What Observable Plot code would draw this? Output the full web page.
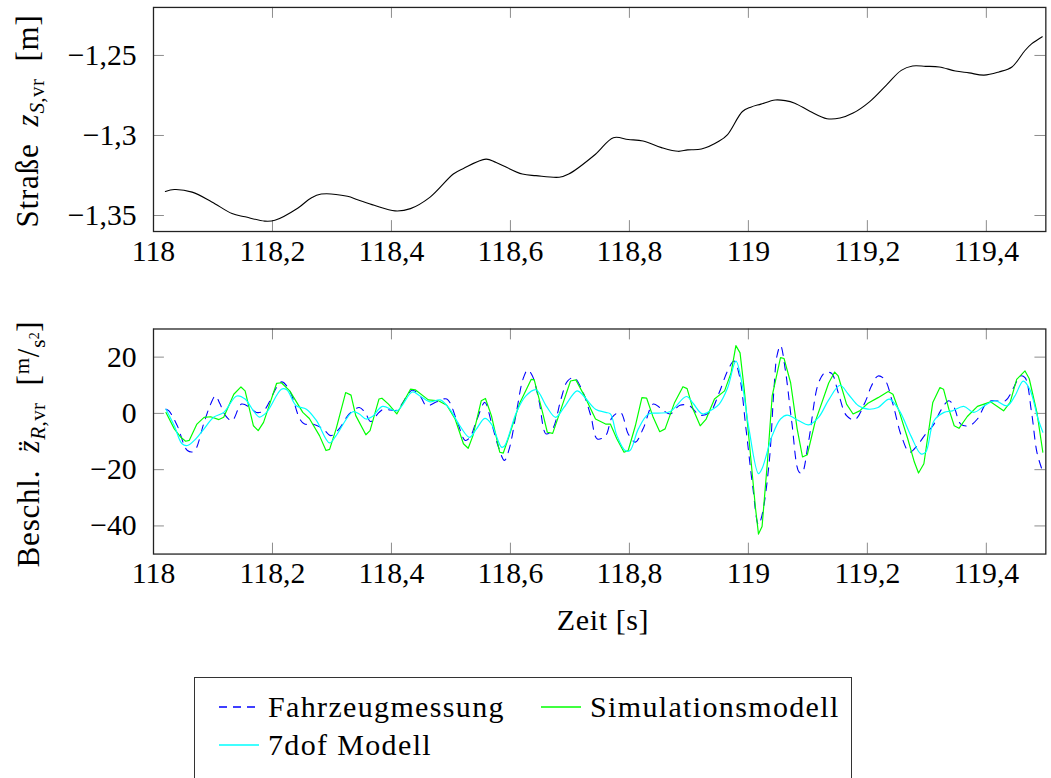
<!DOCTYPE html>
<html><head><meta charset="utf-8">
<script src="https://cdn.jsdelivr.net/npm/d3@7"></script>
<script src="https://cdn.jsdelivr.net/npm/@observablehq/plot@0.6"></script>
<style>
html,body{margin:0;padding:0;overflow:hidden;background:#fff;width:1051px;height:778px}
body{position:relative;font-family:"Liberation Serif","Times New Roman",Tinos,"DejaVu Serif",serif;color:#000}
.abs{position:absolute}
.ylab{position:absolute;white-space:nowrap;font-size:31px;letter-spacing:0.8px;transform:translate(-50%,-50%) rotate(-90deg);line-height:1}
.ylab sub{font-size:21px;vertical-align:-6px;letter-spacing:0.4px}
.ylab sup{font-size:21px;vertical-align:10px}
.lg{position:absolute;font-size:30px;letter-spacing:1.35px;white-space:nowrap;line-height:1;transform:translateY(-50%)}
</style></head>
<body>
<div id="p1" class="abs" style="left:0;top:0"></div>
<div id="p2" class="abs" style="left:0;top:270px"></div>
<div class="ylab" style="left:30px;top:121px">Straße&nbsp; <i>z</i><sub><i>S</i>,vr</sub>&nbsp; [m]</div>
<div class="ylab" style="left:30px;top:444px">Beschl.&nbsp; <i>z&#776;</i><sub><i>R</i>,vr</sub>&nbsp; [<sup>m</sup>/<sub>s<sup style="font-size:14px;vertical-align:6px">2</sup></sub>]</div>
<div class="abs" style="left:603px;top:620px;transform:translate(-50%,-50%);font-size:30px;letter-spacing:0.6px;white-space:nowrap;line-height:1">Zeit [s]</div>
<div id="legend" class="abs" style="left:194px;top:677px;width:658px;height:140px;border:1px solid #333;box-sizing:border-box"></div>
<script>
// ---- data ----
const xTicks = [118, 118.2, 118.4, 118.6, 118.8, 119, 119.2, 119.4];
const roadTicks = [-1.35, -1.3, -1.25];
const accTicks = [-40, -20, 0, 20];

const roadT = [118.02,118.035,118.065,118.098,118.132,118.154,118.187,118.204,118.243,118.265,118.282,118.326,118.343,118.371,118.406,118.432,118.465,118.504,118.521,118.559,118.576,118.62,118.643,118.682,118.698,118.743,118.773,118.798,118.823,118.854,118.882,118.898,118.921,118.951,118.965,118.99,119.004,119.021,119.045,119.062,119.078,119.104,119.132,119.154,119.176,119.204,119.232,119.257,119.276,119.298,119.321,119.348,119.371,119.396,119.421,119.443,119.465,119.476,119.494];
const roadZ = [-1.335,-1.3338,-1.3354,-1.3415,-1.3488,-1.3508,-1.3535,-1.353,-1.3453,-1.339,-1.3366,-1.338,-1.3401,-1.3436,-1.3471,-1.3457,-1.3385,-1.3241,-1.3206,-1.3148,-1.3169,-1.3241,-1.3251,-1.3261,-1.3241,-1.3117,-1.3014,-1.3025,-1.3035,-1.3076,-1.3099,-1.309,-1.3085,-1.3035,-1.2994,-1.285,-1.2823,-1.2804,-1.2778,-1.2782,-1.2798,-1.285,-1.2895,-1.2891,-1.286,-1.2788,-1.2685,-1.2593,-1.2566,-1.2568,-1.2572,-1.2597,-1.2609,-1.2623,-1.2603,-1.2572,-1.2469,-1.2428,-1.2383];

const measT = [118.021,118.026,118.04,118.057,118.068,118.085,118.096,118.104,118.112,118.121,118.132,118.148,118.162,118.173,118.185,118.215,118.229,118.246,118.254,118.268,118.285,118.298,118.312,118.329,118.346,118.357,118.365,118.379,118.387,118.398,118.409,118.435,118.448,118.459,118.476,118.493,118.51,118.524,118.532,118.543,118.557,118.568,118.579,118.59,118.598,118.61,118.621,118.629,118.637,118.648,118.66,118.671,118.685,118.696,118.707,118.721,118.735,118.746,118.76,118.771,118.785,118.798,118.81,118.823,118.84,118.851,118.868,118.885,118.901,118.918,118.935,118.951,118.965,118.976,118.985,118.996,119.007,119.017,119.023,119.035,119.043,119.048,119.054,119.062,119.073,119.085,119.09,119.101,119.118,119.129,119.14,119.151,119.165,119.179,119.196,119.207,119.218,119.229,119.243,119.257,119.271,119.284,119.296,119.312,119.323,119.337,119.346,119.357,119.371,119.385,119.401,119.412,119.432,119.446,119.457,119.465,119.476,119.485,119.493];
const measA = [1.5,0.9,-4.4,-13.2,-13.5,-3.2,3.3,6.2,3.3,-0.8,-2.6,3.3,2.1,0.35,0.9,11.2,8.0,-2.0,-3.8,-3.8,-5.5,-7.9,-5.5,-0.2,2.1,-0.2,-2.9,0.35,1.5,1.2,1.2,8.2,6.2,2.7,4.1,5.1,-2.6,-9.6,-8.5,-2.6,3.9,-3.2,-11.4,-16.7,-12.6,0.35,12.1,15.4,13.3,4.5,-7.3,-5.5,5.1,11.5,12.7,8.0,-0.8,-9.1,-7.9,-1.4,0.35,-7.3,-10.2,-5.5,3.3,2.1,-0.2,2.9,2.7,-0.6,0.35,7.4,15.1,18.6,13.3,-5.5,-25.5,-39.6,-36.1,-17.3,8.6,20.4,24.1,15.6,-3.2,-20.8,-21.2,-10.2,10.9,14.5,14.2,7.4,-0.8,-2.2,3.9,9.8,13.3,12.1,3.3,-7.9,-13.8,-11.4,-7.9,-3.8,0.9,4.5,2.1,-3.8,-4.4,-2.0,3.9,4.5,4.5,9.2,13.3,12.7,0.35,-13.8,-19.6];

const simT = [118.021,118.035,118.046,118.054,118.06,118.073,118.085,118.096,118.11,118.118,118.135,118.147,118.154,118.168,118.176,118.185,118.207,118.215,118.229,118.251,118.262,118.279,118.29,118.296,118.307,118.323,118.332,118.34,118.357,118.364,118.379,118.384,118.395,118.409,118.432,118.44,118.462,118.479,118.493,118.507,118.521,118.529,118.537,118.551,118.558,118.568,118.582,118.588,118.598,118.615,118.635,118.64,118.654,118.662,118.671,118.685,118.701,118.71,118.726,118.743,118.76,118.768,118.779,118.791,118.798,118.81,118.821,118.829,118.84,118.851,118.86,118.876,118.89,118.897,118.907,118.919,118.929,118.943,118.96,118.971,118.979,118.986,118.993,119.001,119.012,119.017,119.023,119.032,119.04,119.054,119.06,119.071,119.082,119.091,119.099,119.112,119.135,119.145,119.151,119.165,119.176,119.187,119.201,119.218,119.235,119.243,119.254,119.268,119.279,119.286,119.295,119.31,119.322,119.328,119.337,119.346,119.354,119.368,119.385,119.407,119.421,119.429,119.44,119.451,119.465,119.472,119.485,119.495];
const simA = [0.35,-5.5,-8.5,-9.9,-9.6,-3.8,-1.4,-1.2,-2.2,-1.4,6.8,9.4,8.0,-4.4,-6.1,-3.2,10.7,10.9,8.0,0.35,-1.8,-7.9,-13.2,-12.8,-5.5,7.4,6.5,-0.8,-7.6,-6.1,5.1,5.4,3.3,-0.2,8.6,8.4,4.8,4.5,2.9,-2.0,-10.8,-12.4,-7.9,4.5,5.3,-0.8,-13.8,-14.1,-7.9,3.3,12.1,11.9,0.35,-6.7,-7.1,1.5,11.5,11.9,5.6,-2.0,-3.8,-3.8,-9.1,-13.8,-13.2,-4.4,5.6,5.4,-1.4,-6.5,-5.5,3.9,9.5,8.8,1.5,-4.4,-2.0,5.1,8.0,14.5,24.1,21.5,8.6,-9.1,-33.8,-42.9,-40.2,-17.3,6.2,19.8,19.5,10.9,-5.5,-15.5,-14.7,-3.2,10.8,14.7,13.3,3.3,-0.2,0.9,3.6,5.6,7.8,6.8,0.35,-9.1,-17.3,-21.2,-17.9,3.9,9.2,8.6,1.5,-4.4,-5.3,-1.1,2.5,4.1,2.1,0.9,3.9,12.1,15.1,12.4,0.35,-13.8];

const dofT = [118.021,118.035,118.048,118.057,118.071,118.085,118.101,118.118,118.14,118.154,118.168,118.178,118.19,118.215,118.224,118.24,118.257,118.274,118.296,118.307,118.335,118.346,118.357,118.368,118.385,118.409,118.435,118.448,118.465,118.482,118.498,118.515,118.531,118.543,118.557,118.568,118.585,118.59,118.61,118.626,118.643,118.66,118.676,118.69,118.712,118.723,118.743,118.76,118.768,118.779,118.793,118.801,118.815,118.832,118.848,118.868,118.896,118.907,118.923,118.94,118.951,118.965,118.979,118.99,119.001,119.017,119.023,119.04,119.054,119.065,119.085,119.101,119.118,119.135,119.154,119.168,119.185,119.201,119.218,119.237,119.254,119.273,119.29,119.298,119.312,119.329,119.343,119.362,119.379,119.398,119.415,119.435,119.448,119.462,119.473,119.487,119.495];
const dofA = [1.5,-4.4,-10.8,-11.4,-9.1,-5.5,-1.4,0.35,6.2,5.1,0.9,-1.3,0.35,8.6,8.4,2.7,1.5,-2.6,-10.5,-7.9,0.6,-0.2,-2.0,-1.1,2.5,0.9,7.6,6.2,4.1,4.8,1.5,-4.4,-8.5,-5.5,-1.8,-3.8,-12.0,-11.6,0.35,6.2,8.4,2.7,-1.4,2.1,8.0,6.2,1.5,0.35,-0.2,-7.9,-13.2,-13.2,-5.5,-0.2,0.1,0.6,6.0,3.6,-0.2,1.5,3.3,9.0,18.6,9.8,-5.5,-21.4,-19.6,-7.9,-2.0,-0.6,-2.6,-4.1,-1.4,4.8,10.0,6.8,2.7,1.5,2.1,5.1,0.9,-7.9,-14.4,-13.8,-2.6,0.35,0.9,2.5,0.35,2.9,4.5,2.7,6.2,11.5,8.6,-2.0,-6.7];

const seriesNames = ["Fahrzeugmessung", "Simulationsmodell", "7dof Modell"];
const seriesColors = ["#0000ff", "#00ff00", "#00ffff"];

// ---- helpers ----
const fmt = d => {
  const s = Number.isInteger(d) ? String(d) : String(+d.toFixed(2));
  return s.replace(".", ",").replace("-", "\u2212");
};
const rows = (xs, ys, kx, ky) => xs.map((x, i) => ({[kx]: x, [ky]: ys[i]}));

const FONT = '"Liberation Serif","Times New Roman",Tinos,"DejaVu Serif",serif';
const W = 1060, ML = 154.3, MR = W - 1054.3;
const TICK = 11, TICKC = "#8c8c8c", FS = 30;

function panel({height, mt, mb, yDomain, yTicks, marks}) {
  const ph = height - mt - mb, pw = W - ML - MR;
  return Plot.plot({
    width: W, height,
    marginLeft: ML, marginRight: MR, marginTop: mt, marginBottom: mb,
    style: {fontFamily: FONT, fontSize: FS + "px", background: "white", overflow: "visible"},
    x: {domain: [118, 119.5]},
    y: {domain: yDomain},
    marks: [
      Plot.tickX(xTicks, {x: d => d, insetTop: ph - TICK, stroke: TICKC, strokeWidth: 1}),
      Plot.tickX(xTicks, {x: d => d, insetBottom: ph - TICK, stroke: TICKC, strokeWidth: 1}),
      Plot.tickY(yTicks, {y: d => d, insetRight: pw - TICK, stroke: TICKC, strokeWidth: 1}),
      Plot.tickY(yTicks, {y: d => d, insetLeft: pw - TICK, stroke: TICKC, strokeWidth: 1}),
      Plot.axisX(xTicks, {anchor: "bottom", tickSize: 0, tickPadding: 8, tickFormat: fmt, fontSize: FS, label: null}),
      Plot.axisY(yTicks, {anchor: "left", tickSize: 0, tickPadding: 17, tickFormat: fmt, fontSize: FS, label: null}),
      ...marks,
      Plot.frame({stroke: "#222", strokeWidth: 1.3})
    ]
  });
}

const p1 = panel({
  height: 270, mt: 7, mb: 37,
  yDomain: [-1.36, -1.22], yTicks: roadTicks,
  marks: [
    Plot.line(rows(roadT, roadZ, "t", "z"), {x: "t", y: "z", stroke: "black", strokeWidth: 1.1, curve: "catmull-rom"})
  ]
});
document.getElementById("p1").appendChild(p1);

const p2 = panel({
  height: 330, mt: 59, mb: 44,
  yDomain: [-50, 30], yTicks: accTicks,
  marks: [
    Plot.line(rows(measT, measA, "t", "a"), {x: "t", y: "a", stroke: seriesColors[0], strokeWidth: 1.1, strokeDasharray: "8,7", curve: "catmull-rom", clip: true}),
    Plot.line(rows(simT, simA, "t", "a"), {x: "t", y: "a", stroke: seriesColors[1], strokeWidth: 1.2, curve: "linear", clip: true}),
    Plot.line(rows(dofT, dofA, "t", "a"), {x: "t", y: "a", stroke: seriesColors[2], strokeWidth: 1.2, curve: "catmull-rom", clip: true})
  ]
});
document.getElementById("p2").appendChild(p2);

// ---- legend ----
const lg = document.getElementById("legend");
const items = [
  {name: seriesNames[0], color: seriesColors[0], dash: "8,6", lx: 24, ty: 29},
  {name: seriesNames[1], color: seriesColors[1], dash: null, lx: 346, ty: 29},
  {name: seriesNames[2], color: seriesColors[2], dash: null, lx: 24, ty: 67}
];
for (const it of items) {
  const svg = d3.create("svg").attr("width", 42).attr("height", 6)
    .style("position", "absolute").style("left", it.lx + "px").style("top", (it.ty - 3) + "px");
  svg.append("line").attr("x1", 0).attr("x2", 40).attr("y1", 3).attr("y2", 3)
    .attr("stroke", it.color).attr("stroke-width", 1.6).attr("stroke-dasharray", it.dash);
  lg.appendChild(svg.node());
  const t = document.createElement("div");
  t.className = "lg";
  t.style.left = (it.lx + 49) + "px";
  t.style.top = it.ty + "px";
  t.textContent = it.name;
  lg.appendChild(t);
}
</script>
</body></html>
